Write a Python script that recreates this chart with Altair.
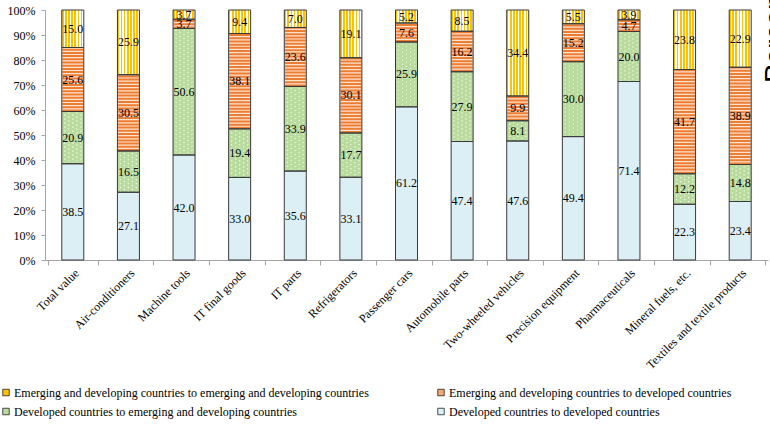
import altair as alt
import pandas as pd

cats = ["Total value", "Air-conditioners", "Machine tools", "IT final goods", "IT parts",
        "Refrigerators", "Passenger cars", "Automobile parts", "Two-wheeled vehicles",
        "Precision equipment", "Pharmaceuticals", "Mineral fuels, etc.",
        "Textiles and textile products"]

s_ee = "Emerging and developing countries to emerging and developing countries"
s_ed = "Emerging and developing countries to developed countries"
s_de = "Developed countries to emerging and developing countries"
s_dd = "Developed countries to developed countries"

dd = [38.5, 27.1, 42.0, 33.0, 35.6, 33.1, 61.2, 47.4, 47.6, 49.4, 71.4, 22.3, 23.4]
de = [20.9, 16.5, 50.6, 19.4, 33.9, 17.7, 25.9, 27.9, 8.1, 30.0, 20.0, 12.2, 14.8]
ed = [25.6, 30.5, 3.7, 38.1, 23.6, 30.1, 7.6, 16.2, 9.9, 15.2, 4.7, 41.7, 38.9]
ee = [15.0, 25.9, 3.7, 9.4, 7.0, 19.1, 5.2, 8.5, 34.4, 5.5, 3.9, 23.8, 22.9]

y_ticks = [0.0, 0.1, 0.2, 0.3, 0.4, 0.5, 0.6, 0.7, 0.8, 0.9, 1.0]

series_order = [s_dd, s_de, s_ed, s_ee]          # bottom -> top
# legend fills column by column: col 1 = EE, DE ; col 2 = ED, DD
legend_order = [s_ee, s_de, s_ed, s_dd]
legend_colors = ["#FFC000", "#B9DC9E", "#F4A878", "#DCEFF5"]

rows = []
for i, c in enumerate(cats):
    for k, (s, vals) in enumerate(zip(series_order, [dd, de, ed, ee])):
        rows.append({"cat": c, "series": s, "val": vals[i], "ord": k})
df = pd.DataFrame(rows)

FONT = "Liberation Serif"
W, H = 723, 250
BAR = 22

base = alt.Chart(df).transform_stack(
    stack="val", groupby=["cat"], as_=["y0", "y1"], offset="normalize",
    sort=[alt.SortField("ord", order="ascending")]
).transform_calculate(mid="(datum.y0 + datum.y1) / 2")

xenc = alt.X("cat:N", sort=cats, title=None,
             scale=alt.Scale(paddingInner=0.1, paddingOuter=0.05))
yscale = alt.Scale(domain=[0, 1])
yenc = alt.Y("y0:Q", scale=yscale, title=None,
             axis=alt.Axis(values=y_ticks, format=".0%", grid=False, labelOverlap=False))
ymid = alt.Y("mid:Q", scale=yscale, title=None,
             axis=alt.Axis(values=y_ticks, format=".0%", grid=False, labelOverlap=False))

fills = base.mark_bar(size=BAR).encode(
    x=xenc, y=yenc, y2="y1:Q",
    color=alt.Color("series:N", scale=alt.Scale(domain=legend_order, range=legend_colors),
                    legend=alt.Legend(orient="none", legendX=-45, legendY=376.5, columns=2,
                                      title=None, symbolType="square", symbolSize=42,
                                      symbolStrokeColor="#222222", symbolStrokeWidth=0.8,
                                      labelFont=FONT, labelFontSize=12, labelColor="black",
                                      labelLimit=0, columnPadding=66, rowPadding=7,
                                      labelOffset=2, padding=0)),
)

# yellow vertical stripes
stops = []
n = 7
for i in range(n):
    a, m, b = i / n, (i + 0.55) / n, (i + 1) / n
    stops += [alt.GradientStop(color="#FFC000", offset=a),
              alt.GradientStop(color="#FFC000", offset=m),
              alt.GradientStop(color="#FFFFFF", offset=m),
              alt.GradientStop(color="#FFFFFF", offset=b)]
yellow = base.transform_filter(alt.datum.series == s_ee).mark_bar(
    size=BAR,
    color=alt.Gradient(gradient="linear", x1=0, x2=1, y1=0, y2=0, stops=stops)
).encode(x=xenc, y=yenc, y2="y1:Q")

# orange horizontal stripes (light base + dashed rule)
orange_bg = base.transform_filter(alt.datum.series == s_ed).mark_bar(
    size=BAR, color="#FCE3D2").encode(x=xenc, y=yenc, y2="y1:Q")
orange = base.transform_filter(alt.datum.series == s_ed).mark_rule(
    strokeWidth=BAR - 1, strokeDash=[2, 1.2], color="#ED7D31", strokeCap="butt"
).encode(x=xenc, y=yenc, y2="y1:Q")

# green dots
dots = []
for j, off in enumerate([-8, -4, 0, 4, 8]):
    dots.append(base.transform_filter(alt.datum.series == s_de).mark_rule(
        strokeWidth=1.2, strokeDash=[1.2, 2.8], strokeDashOffset=2 * (j % 2),
        color="#FFFFFF", opacity=0.8, strokeCap="butt", xOffset=off
    ).encode(x=xenc, y=yenc, y2="y1:Q"))

outline = base.mark_bar(size=BAR, fillOpacity=0, stroke="#3A3A3A", strokeWidth=1).encode(
    x=xenc, y=yenc, y2="y1:Q")

labels = base.mark_text(font=FONT, fontSize=12, color="black", align="center",
                        baseline="middle").encode(
    x=xenc, y=ymid, text=alt.Text("val:Q", format=".1f"))

side = alt.Chart(pd.DataFrame({"t": ["Percentage"]})).mark_text(
    font="Liberation Sans", fontSize=28, angle=270, align="left",
    baseline="alphabetic", color="black").encode(
    text="t:N", x=alt.value(739), y=alt.value(73))

chart = alt.layer(fills, yellow, orange_bg, orange, *dots, outline, labels, side).properties(
    width=W, height=H,
    autosize=alt.AutoSizeParams(type="none"),
    padding={"left": 45, "top": 10, "right": 2, "bottom": 167},
    background="white",
).configure_view(stroke=None).configure_axisX(
    labelAngle=-45, labelFont=FONT, labelFontSize=12, labelColor="black",
    domainColor="#A6A6A6", tickColor="#A6A6A6", tickSize=5, tickBand="extent",
    labelPadding=2, labelLimit=300, grid=False
).configure_axisY(
    labelFont=FONT, labelFontSize=12, labelColor="black", labelOverlap=False,
    domainColor="#A6A6A6", tickColor="#A6A6A6", tickSize=4, labelPadding=6, grid=False
)

chart.save("out.html", embed_options={"renderer": "svg", "actions": False})
